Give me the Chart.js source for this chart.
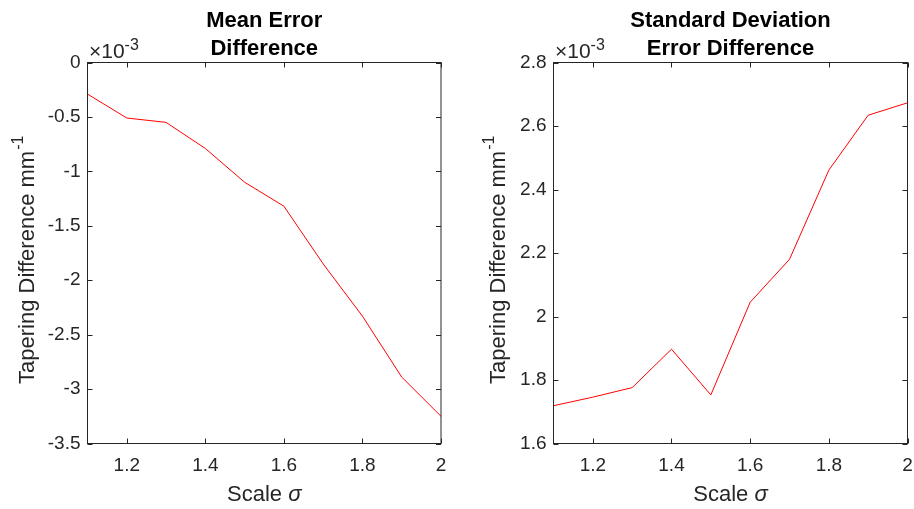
<!DOCTYPE html>
<html>
<head>
<meta charset="utf-8">
<script src="https://cdn.jsdelivr.net/npm/chart.js@4"></script>
<style>
  body { margin: 0; background: #fff; }
  .wrap { position: relative; width: 914px; height: 509px; }
  canvas { position: absolute; top: 0; }
</style>
</head>
<body>
<div class="wrap">
  <canvas id="meanChart" width="457" height="509" style="left:0"></canvas>
  <canvas id="stdChart" width="457" height="509" style="left:457px"></canvas>
</div>
<script>
// values are in units of 1e-3 (shown by the x10^-3 label on each plot)
const sigma = [1.1, 1.2, 1.3, 1.4, 1.5, 1.6, 1.7, 1.8, 1.9, 2.0];
const meanErrDiff = [-0.29, -0.51, -0.55, -0.79, -1.10, -1.32, -1.85, -2.33, -2.89, -3.25];
const stdErrDiff = [1.719, 1.746, 1.776, 1.897, 1.753, 2.045, 2.180, 2.461, 2.634, 2.673];
const xTicks = [1.2, 1.4, 1.6, 1.8, 2];
const meanTicks = [0, -0.5, -1, -1.5, -2, -2.5, -3, -3.5];
const stdTicks = [1.6, 1.8, 2, 2.2, 2.4, 2.6, 2.8];

const FONT = '"Liberation Sans", Arial, Helvetica, sans-serif';
const AXIS_COLOR = '#262626';

// draws the matlab style box, inward ticks, titles and labels
const matlabAxes = {
  id: 'matlabAxes',
  afterDraw(chart, args, opts) {
    const ctx = chart.ctx;
    const a = chart.chartArea;
    const xs = chart.scales.x, ys = chart.scales.y;
    ctx.save();

    ctx.strokeStyle = AXIS_COLOR;
    ctx.lineWidth = 1;
    ctx.strokeRect(a.left, a.top, a.right - a.left, a.bottom - a.top);

    ctx.beginPath();
    xs.ticks.forEach(t => {
      const px = Math.round(xs.getPixelForValue(t.value)) + 0.5;
      ctx.moveTo(px, a.bottom); ctx.lineTo(px, a.bottom - 5);
      ctx.moveTo(px, a.top); ctx.lineTo(px, a.top + 5);
    });
    ys.ticks.forEach(t => {
      const py = Math.round(ys.getPixelForValue(t.value)) + 0.5;
      ctx.moveTo(a.left, py); ctx.lineTo(a.left + 5, py);
      ctx.moveTo(a.right, py); ctx.lineTo(a.right - 5, py);
    });
    ctx.stroke();

    ctx.fillStyle = AXIS_COLOR;
    ctx.textBaseline = 'alphabetic';

    // exponent label
    ctx.textAlign = 'left';
    ctx.font = '21px ' + FONT;
    ctx.fillText('\u00d710', a.left + 1.5, 58);
    const ew = ctx.measureText('\u00d710').width;
    ctx.font = '16px ' + FONT;
    ctx.fillText('-3', a.left + 1.5 + ew, 50);

    // title
    const cx = (a.left + a.right) / 2;
    ctx.fillStyle = '#000';
    ctx.textAlign = 'center';
    ctx.font = 'bold 22px ' + FONT;
    opts.title.forEach((line, i) => ctx.fillText(line, cx, 27 + i * 28.3));

    // x label "Scale σ"
    ctx.fillStyle = AXIS_COLOR;
    ctx.textAlign = 'left';
    ctx.font = '22px ' + FONT;
    const w1 = ctx.measureText('Scale ').width;
    ctx.font = 'italic 22px ' + FONT;
    const w2 = ctx.measureText('\u03c3').width;
    const sx = cx - (w1 + w2) / 2;
    ctx.font = '22px ' + FONT;
    ctx.fillText('Scale ', sx, 501);
    ctx.font = 'italic 22px ' + FONT;
    ctx.fillText('\u03c3', sx + w1, 501);

    // y label with superscript
    ctx.translate(opts.yLabelX, 384);
    ctx.rotate(-Math.PI / 2);
    ctx.font = '22px ' + FONT;
    ctx.fillText('Tapering Difference mm', 0, 0);
    const yw = ctx.measureText('Tapering Difference mm').width;
    ctx.font = '16px ' + FONT;
    ctx.fillText('-1', yw + 1, -11);

    ctx.restore();
  }
};

function fmt(v) {
  return String(+v.toFixed(2));
}

function makeChart(id, values, yTicks, title, pad, yLabelX) {
  const ctx = document.getElementById(id).getContext('2d');
  return new Chart(ctx, {
    type: 'line',
    data: {
      datasets: [{
        data: sigma.map((s, i) => ({ x: s, y: values[i] })),
        borderColor: '#ff0000',
        borderWidth: 1,
        pointRadius: 0,
        tension: 0,
        fill: false
      }]
    },
    options: {
      responsive: false,
      animation: false,
      layout: { padding: { top: 62.5, right: pad.right, left: 0, bottom: 0 } },
      plugins: {
        legend: { display: false },
        tooltip: { enabled: false },
        matlabAxes: { title, yLabelX }
      },
      scales: {
        x: {
          type: 'linear',
          min: 1.1,
          max: 2,
          grid: { display: false, drawTicks: false },
          border: { display: false },
          afterBuildTicks: s => { s.ticks = xTicks.map(v => ({ value: v })); },
          afterFit: s => {
            s.height = 65.5;
            s.paddingLeft = 0;
            s.paddingRight = 0;
          },
          ticks: {
            callback: v => fmt(v),
            color: AXIS_COLOR,
            font: { family: FONT, size: 19 },
            padding: 11,
            maxRotation: 0
          }
        },
        y: {
          type: 'linear',
          min: Math.min(...yTicks),
          max: Math.max(...yTicks),
          grid: { display: false, drawTicks: false },
          border: { display: false },
          afterBuildTicks: s => { s.ticks = yTicks.map(v => ({ value: v })); },
          afterFit: s => { s.width = pad.left; },
          ticks: {
            callback: v => fmt(v),
            color: AXIS_COLOR,
            font: { family: FONT, size: 19 },
            padding: 7
          }
        }
      }
    },
    plugins: [matlabAxes]
  });
}

makeChart('meanChart', meanErrDiff, meanTicks, ['Mean Error', 'Difference'],
  { left: 87.5, right: 16 }, 34);
makeChart('stdChart', stdErrDiff, stdTicks, ['Standard Deviation', 'Error Difference'],
  { left: 96.5, right: 6.5 }, 47.5);
</script>
</body>
</html>
